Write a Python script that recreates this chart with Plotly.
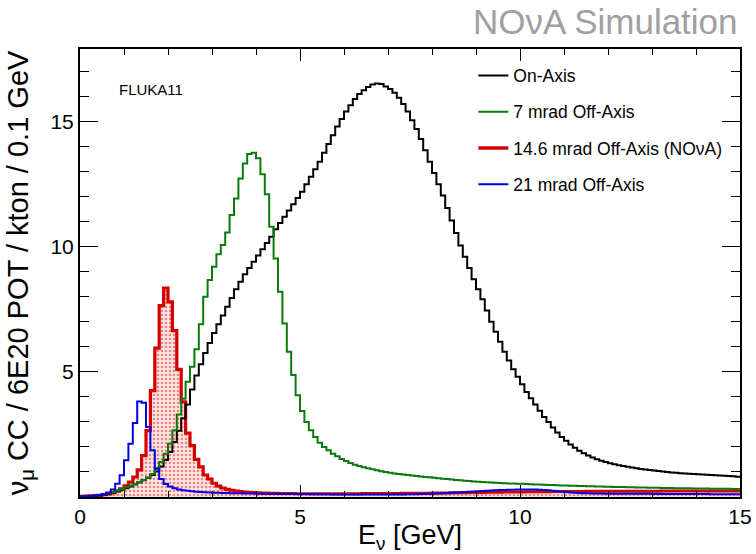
import numpy as np
import plotly.graph_objects as go

# ---- data (nu_mu CC / 6E20 POT / kton / 0.1 GeV), 150 bins of 0.1 GeV from 0 to 15 GeV ----
bin_width = 0.1
e_min = 0.0

on_axis = [
    0.02, 0.02, 0.03, 0.04, 0.06, 0.09, 0.13, 0.18, 0.23, 0.29,
    0.35, 0.42, 0.50, 0.58, 0.67, 0.77, 0.88, 1.02, 1.22, 1.48,
    1.80, 2.20, 2.65, 3.15, 3.70, 4.30, 4.85, 5.30, 5.75, 6.15,
    6.55, 6.90, 7.25, 7.60, 7.95, 8.30, 8.60, 8.90, 9.15, 9.40,
    9.65, 9.90, 10.15, 10.40, 10.70, 10.95, 11.20, 11.45, 11.70, 11.95,
    12.20, 12.50, 12.80, 13.10, 13.40, 13.75, 14.10, 14.45, 14.80, 15.10,
    15.40, 15.65, 15.90, 16.10, 16.25, 16.38, 16.48, 16.52, 16.50, 16.40,
    16.30, 16.15, 15.95, 15.70, 15.40, 15.05, 14.70, 14.30, 13.85, 13.40,
    12.95, 12.50, 12.05, 11.55, 11.05, 10.55, 10.05, 9.60, 9.15, 8.70,
    8.30, 7.90, 7.45, 7.00, 6.60, 6.20, 5.80, 5.45, 5.10, 4.80,
    4.50, 4.20, 3.95, 3.70, 3.45, 3.20, 3.00, 2.78, 2.58, 2.40,
    2.25, 2.10, 1.97, 1.85, 1.75, 1.66, 1.58, 1.51, 1.45, 1.40,
    1.35, 1.31, 1.27, 1.24, 1.21, 1.18, 1.15, 1.12, 1.10, 1.08,
    1.06, 1.04, 1.02, 1.00, 0.98, 0.97, 0.95, 0.94, 0.93, 0.92,
    0.91, 0.90, 0.89, 0.88, 0.87, 0.86, 0.85, 0.84, 0.83, 0.81,
]

off_7mrad = [
    0.02, 0.03, 0.04, 0.06, 0.08, 0.11, 0.15, 0.20, 0.26, 0.32,
    0.38, 0.45, 0.52, 0.60, 0.68, 0.78, 0.92, 1.15, 1.40, 1.73,
    2.13, 2.67, 3.30, 3.93, 4.60, 5.20, 5.90, 6.90, 8.00, 8.67,
    9.20, 9.70, 10.07, 10.57, 11.27, 11.93, 12.73, 13.33, 13.70, 13.75,
    13.53, 12.90, 12.10, 10.80, 9.53, 8.20, 6.93, 5.80, 4.87, 4.07,
    3.44, 3.00, 2.67, 2.40, 2.17, 2.00, 1.87, 1.73, 1.63, 1.52,
    1.44, 1.36, 1.29, 1.24, 1.19, 1.15, 1.11, 1.07, 1.03, 1.00,
    0.97, 0.94, 0.92, 0.90, 0.88, 0.86, 0.84, 0.82, 0.80, 0.79,
    0.77, 0.75, 0.73, 0.72, 0.70, 0.68, 0.67, 0.65, 0.64, 0.62,
    0.61, 0.60, 0.59, 0.58, 0.57, 0.56, 0.55, 0.54, 0.54, 0.53,
    0.53, 0.52, 0.51, 0.50, 0.50, 0.49, 0.48, 0.48, 0.47, 0.46,
    0.46, 0.45, 0.45, 0.44, 0.44, 0.43, 0.43, 0.42, 0.42, 0.41,
    0.41, 0.40, 0.40, 0.40, 0.39, 0.39, 0.38, 0.38, 0.38, 0.37,
    0.37, 0.37, 0.36, 0.36, 0.36, 0.35, 0.35, 0.35, 0.35, 0.34,
    0.34, 0.34, 0.34, 0.33, 0.33, 0.33, 0.33, 0.33, 0.32, 0.32,
]

off_14p6mrad = [
    0.03, 0.04, 0.05, 0.06, 0.07, 0.09, 0.12, 0.17, 0.24, 0.33,
    0.45, 0.60, 0.80, 1.08, 1.65, 2.65, 4.25, 5.95, 7.65, 8.35,
    7.80, 6.65, 5.10, 3.80, 2.55, 2.05, 1.50, 1.20, 0.88, 0.72,
    0.55, 0.44, 0.36, 0.31, 0.27, 0.24, 0.22, 0.20, 0.19, 0.18,
    0.17, 0.16, 0.16, 0.15, 0.15, 0.14, 0.14, 0.14, 0.14, 0.13,
    0.13, 0.13, 0.13, 0.13, 0.13, 0.13, 0.13, 0.13, 0.13, 0.13,
    0.13, 0.13, 0.13, 0.13, 0.14, 0.14, 0.14, 0.14, 0.14, 0.14,
    0.14, 0.14, 0.14, 0.15, 0.15, 0.15, 0.15, 0.15, 0.15, 0.15,
    0.16, 0.16, 0.16, 0.16, 0.17, 0.17, 0.17, 0.17, 0.18, 0.18,
    0.18, 0.18, 0.19, 0.19, 0.19, 0.19, 0.20, 0.20, 0.20, 0.20,
    0.20, 0.21, 0.21, 0.21, 0.21, 0.21, 0.21, 0.22, 0.22, 0.22,
    0.22, 0.22, 0.22, 0.22, 0.22, 0.23, 0.23, 0.23, 0.23, 0.23,
    0.23, 0.23, 0.23, 0.23, 0.23, 0.23, 0.23, 0.23, 0.23, 0.23,
    0.23, 0.23, 0.24, 0.24, 0.24, 0.24, 0.24, 0.24, 0.24, 0.24,
    0.24, 0.24, 0.24, 0.24, 0.24, 0.24, 0.24, 0.24, 0.24, 0.24,
]

off_21mrad = [
    0.02, 0.03, 0.04, 0.06, 0.08, 0.12, 0.18, 0.30, 0.53, 0.87,
    1.47, 2.13, 2.96, 3.82, 3.77, 2.80, 1.87, 1.13, 0.72, 0.52,
    0.42, 0.35, 0.30, 0.27, 0.25, 0.23, 0.21, 0.20, 0.19, 0.18,
    0.17, 0.17, 0.16, 0.16, 0.15, 0.15, 0.15, 0.14, 0.14, 0.14,
    0.13, 0.13, 0.13, 0.13, 0.13, 0.12, 0.12, 0.12, 0.12, 0.12,
    0.12, 0.12, 0.11, 0.11, 0.11, 0.11, 0.11, 0.10, 0.10, 0.10,
    0.10, 0.10, 0.10, 0.10, 0.10, 0.10, 0.10, 0.10, 0.10, 0.10,
    0.10, 0.10, 0.10, 0.10, 0.11, 0.11, 0.11, 0.12, 0.12, 0.13,
    0.13, 0.14, 0.15, 0.16, 0.17, 0.18, 0.19, 0.20, 0.21, 0.22,
    0.23, 0.24, 0.25, 0.26, 0.27, 0.28, 0.28, 0.29, 0.29, 0.30,
    0.30, 0.30, 0.30, 0.30, 0.29, 0.28, 0.27, 0.25, 0.23, 0.21,
    0.20, 0.18, 0.17, 0.16, 0.15, 0.15, 0.14, 0.14, 0.14, 0.13,
    0.13, 0.13, 0.13, 0.13, 0.13, 0.13, 0.13, 0.13, 0.13, 0.13,
    0.12, 0.12, 0.12, 0.12, 0.12, 0.12, 0.12, 0.12, 0.12, 0.12,
    0.12, 0.12, 0.12, 0.11, 0.11, 0.11, 0.11, 0.11, 0.11, 0.11,
]

series_names = ["On-Axis", "7 mrad Off-Axis", "14.6 mrad Off-Axis (NOνA)", "21 mrad Off-Axis"]
x_tick_vals = [0, 5, 10, 15]
y_tick_vals = [5, 10, 15]

FONT = "Liberation Sans, Arial, Helvetica, sans-serif"
C_BLACK = "#000000"
C_GREEN = "#0b7a0b"
C_RED = "#d40000"
C_BLUE = "#0000e6"


def step_xy(values):
    n = len(values)
    edges = np.round(e_min + bin_width * np.arange(n + 1), 6)
    y = list(values) + [values[-1]]
    return edges, y


fig = go.Figure()

# red histogram with dotted fill (drawn first, underneath)
xr, yr = step_xy(off_14p6mrad)
fig.add_trace(go.Scatter(
    x=xr, y=yr, mode="lines", line=dict(shape="hv", color=C_RED, width=3.2),
    fill="tozeroy", fillcolor="rgba(248,200,200,0.7)",
    fillpattern=dict(shape=".", fgcolor="#e02828", bgcolor="rgba(252,222,222,0.8)", size=4, solidity=0.35),
    showlegend=False, hoverinfo="skip"))

for vals, col, w in [(on_axis, C_BLACK, 2), (off_7mrad, C_GREEN, 2), (off_21mrad, C_BLUE, 2)]:
    xs, ys = step_xy(vals)
    fig.add_trace(go.Scatter(x=xs, y=ys, mode="lines", line=dict(shape="hv", color=col, width=w),
                             showlegend=False, hoverinfo="skip"))

# legend entries (line samples)
for i, (name, col, w) in enumerate(zip(series_names, [C_BLACK, C_GREEN, C_RED, C_BLUE], [2, 2, 3.5, 2])):
    fig.add_trace(go.Scatter(x=[None], y=[None], mode="lines", name=name,
                             line=dict(color=col, width=w), legendgroup=f"g{i}", showlegend=True))

axis_common = dict(
    showline=True, linecolor="black", linewidth=2, mirror="allticks",
    ticks="inside", tickcolor="black", tickwidth=1,
    showgrid=False, zeroline=False,
    tickfont=dict(family=FONT, size=21, color="black"),
)

fig.update_xaxes(
    range=[0, 15], tickmode="array", tickvals=x_tick_vals, ticklen=12,
    minor=dict(dtick=1, ticklen=6, ticks="inside", tickcolor="black", tickwidth=1),
    title=dict(text="E<sub>ν</sub> [GeV]", font=dict(family=FONT, size=27, color="black"), standoff=4),
    **axis_common)
fig.update_yaxes(
    range=[0, 17.9], tickmode="array", tickvals=y_tick_vals, ticklen=18,
    minor=dict(dtick=1, ticklen=9, ticks="inside", tickcolor="black", tickwidth=1),
    title=dict(text="ν<sub>μ</sub> CC / 6E20 POT / kton / 0.1 GeV", font=dict(family=FONT, size=29, color="black"), standoff=13),
    **axis_common)

fig.update_layout(
    width=756, height=554,
    margin=dict(l=80, r=16, t=49, b=57, autoexpand=False),
    paper_bgcolor="white", plot_bgcolor="white",
    font=dict(family=FONT, color="black"),
    legend=dict(x=0.596, y=0.981, xanchor="left", yanchor="top", bgcolor="rgba(0,0,0,0)",
                font=dict(family=FONT, size=17.5, color="black"), tracegroupgap=10.5,
                traceorder="grouped"),
    annotations=[
        dict(text="NOνA Simulation", x=1.0, y=1.0625, xref="paper", yref="paper",
             xanchor="right", yanchor="middle", showarrow=False,
             font=dict(family=FONT, size=35, color="#a0a0a0")),
        dict(text="FLUKA11", x=0.85, y=16.3, xref="x", yref="y",
             xanchor="left", yanchor="middle", showarrow=False,
             font=dict(family=FONT, size=15, color="black")),
    ],
)

fig.write_html("out.html", config={"displayModeBar": False},
               post_script="document.body.style.margin='0px';document.body.style.overflow='hidden';")
